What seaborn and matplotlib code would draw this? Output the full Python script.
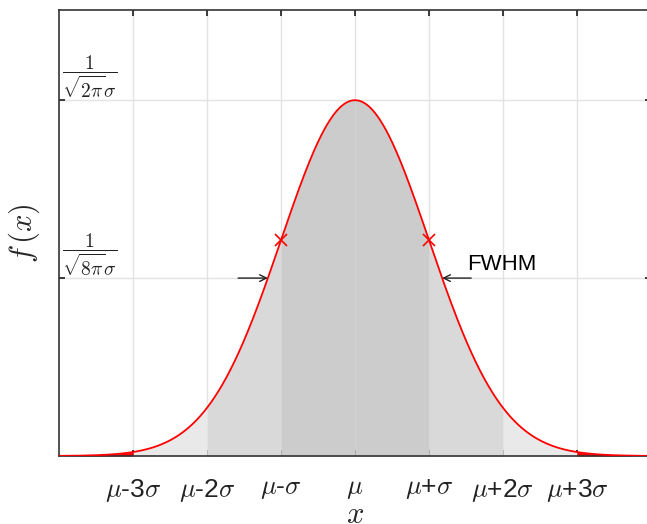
import numpy as np
import matplotlib
matplotlib.use("Agg")
import matplotlib.pyplot as plt
import seaborn as sns

# curva normal estandar (mu=0, sigma=1)
mu, sigma = 0.0, 1.0
x_lim = (-4, 4)
y_lim = (0, 0.5)

# bandas de sombreado: limite interior, limite exterior, color
band_inner = [0, 1, 2, 3]
band_outer = [1, 2, 3, 4]
band_colors = ["#cccccc", "#d9d9d9", "#e9e9e9", "red"]

xtick_sig = [-3, -2, -1, 0, 1, 2, 3]
xtick_labels = [r"$\mu$-3$\sigma$", r"$\mu$-2$\sigma$", r"$\mu$-$\sigma$", r"$\mu$",
                r"$\mu$+$\sigma$", r"$\mu$+2$\sigma$", r"$\mu$+3$\sigma$"]
ytick_labels = [r"$\dfrac{1}{\sqrt{8\pi}\sigma}$", r"$\dfrac{1}{\sqrt{2\pi}\sigma}$"]
inflexion_sig = [-1, 1]


def pdf(x):
    return np.exp(-0.5 * ((x - mu) / sigma) ** 2) / (np.sqrt(2 * np.pi) * sigma)


sns.set_theme(style="whitegrid")
plt.rcParams.update({
    "font.family": ["Liberation Sans", "DejaVu Sans"],
    "mathtext.fontset": "cm",
    "axes.edgecolor": "#333333",
    "axes.linewidth": 1.2,
    "grid.color": "#e3e3e3",
    "grid.linewidth": 1.0,
})

fig = plt.figure(figsize=(6.47, 5.24), dpi=100)
ax = fig.add_axes([0.0912, 0.1298, 0.915, 0.851])

xs = np.linspace(x_lim[0], x_lim[1], 801)
for lo, hi, col in zip(band_inner, band_outer, band_colors):
    for sgn in (-1, 1):
        a, b = sorted((mu + sgn * lo * sigma, mu + sgn * hi * sigma))
        seg = xs[(xs >= a) & (xs <= b)]
        ax.fill_between(seg, 0, pdf(seg), color=col, linewidth=0, zorder=1)

sns.lineplot(x=xs, y=pdf(xs), color="red", linewidth=1.3, ax=ax, zorder=3)

xi = np.array(inflexion_sig) * sigma + mu
ax.plot(xi, pdf(xi), "x", color="red", markersize=8, markeredgewidth=1.2, zorder=4)

# flechas FWHM
half = pdf(mu) / 2
hw = sigma * np.sqrt(2 * np.log(2))
arrow = dict(arrowstyle="->", color="#222222", lw=1.0, shrinkA=0, shrinkB=0)
ax.annotate("", xy=(mu - hw, half), xytext=(mu - 1.58 * sigma, half), arrowprops=arrow, zorder=5)
ax.annotate("", xy=(mu + hw, half), xytext=(mu + 1.57 * sigma, half), arrowprops=arrow, zorder=5)
ax.text(mu + 1.51 * sigma, half + 0.003, "FWHM", fontsize=16, color="black",
        ha="left", va="bottom", zorder=5)

ax.set_xlim(*x_lim)
ax.set_ylim(*y_lim)
ax.set_xticks([mu + s * sigma for s in xtick_sig])
ax.set_xticklabels(xtick_labels, fontsize=19)
ax.set_yticks([half, pdf(mu)])
ax.set_yticklabels(ytick_labels, fontsize=14)
for lbl in ax.get_yticklabels():
    lbl.set_horizontalalignment("left")
    lbl.set_verticalalignment("bottom")

ax.tick_params(axis="both", direction="in", length=4, color="#333333",
               top=True, right=True, bottom=True, left=True)
ax.tick_params(axis="x", pad=15, colors="#222222")
ax.tick_params(axis="y", pad=-2, colors="#222222")
ax.grid(True, zorder=0)
ax.set_axisbelow(True)
for s in ax.spines.values():
    s.set_visible(True)

ax.set_xlabel(r"$x$", fontsize=22, labelpad=-3)
ax.set_ylabel(r"$f\,(x)$", fontsize=22, labelpad=12)

fig.savefig("out.png", dpi=100)
plt.close(fig)
